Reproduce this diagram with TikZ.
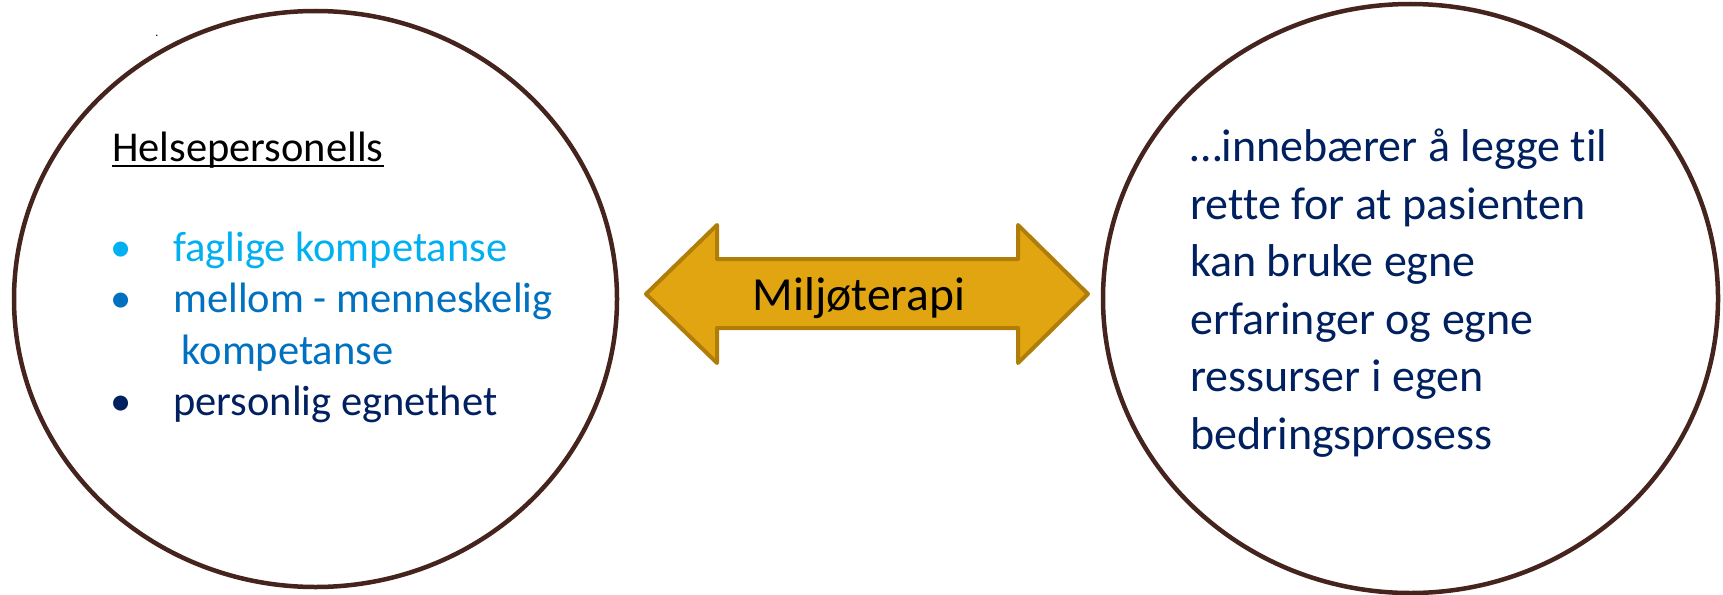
\documentclass[tikz,border=0pt]{standalone}
\usepackage{fontspec}
\setmainfont{Carlito}[Ligatures=NoCommon]
\usetikzlibrary{shapes.geometric}

\definecolor{sirkelbrun}{RGB}{69,36,30}
\definecolor{pilgul}{RGB}{225,165,18}
\definecolor{pilkant}{RGB}{176,125,8}
\definecolor{lysblaa}{RGB}{0,176,240}
\definecolor{mellomblaa}{RGB}{0,112,192}
\definecolor{moerkblaa}{RGB}{0,32,96}

\newcommand{\understrek}[1]{\setbox0\hbox{#1}\rlap{\rule[-5pt]{\wd0}{2pt}}\box0}

\begin{document}
\begin{tikzpicture}[
    x=1pt, y=-1pt,
    % Sirklene
    sirkel/.style={
        draw=sirkelbrun,
        line width=4.5pt,
        ellipse,
        fill=white,
        inner sep=0pt
    },
    % Tekst i venstre sirkel
    punkt/.style={
        anchor=base west,
        inner sep=0pt,
        font=\fontsize{42.5}{52}\selectfont
    },
    % Tekst i hoeyre sirkel
    tekst/.style={
        anchor=base west,
        inner sep=0pt,
        font=\fontsize{46}{57.6}\selectfont,
        text=moerkblaa,
        align=left
    },
    pilform/.style={draw=pilkant, fill=pilgul, line width=4pt, line join=round}
]
\useasboundingbox (0,0) rectangle (1723,594);

% ---- SIRKLER ----
\node[sirkel, minimum width=603pt, minimum height=576pt] (venstre) at (315.5,299) {};
\node[sirkel, minimum width=615pt, minimum height=589pt] (hoeyre) at (1410.5,298.5) {};

% ---- DOBBELTPIL ----
\draw[pilform] (646,294) -- (717,225) -- (717,259) -- (1018,259) -- (1018,225)
    -- (1088,294) -- (1018,363) -- (1018,328) -- (717,328) -- (717,363) -- cycle;
\node[anchor=base, inner sep=0pt, font=\fontsize{47.5}{55}\selectfont] (miljo) at (859,310) {Miljøterapi};

% ---- VENSTRE: HELSEPERSONELLS ----
\node[inner sep=0pt, font=\fontsize{12}{14}\selectfont] (prikk) at (157,36) {.};
\node[punkt] (tittel) at (112,161.5) {\understrek{Helsepersonells}};

\node[punkt, text=lysblaa]    (b1) at (110,261.5) {•};
\node[punkt, text=lysblaa]    (p1) at (173,261.5) {faglige kompetanse};
\node[punkt, text=mellomblaa] (b2) at (110,312) {•};
\node[punkt, text=mellomblaa] (p2) at (173,312) {mellom - menneskelig};
\node[punkt, text=mellomblaa] (p2b) at (181.5,364) {kompetanse};
\node[punkt, text=moerkblaa]  (b3) at (110,415) {•};
\node[punkt, text=moerkblaa]  (p3) at (173,415) {personlig egnethet};

% ---- HOEYRE: BESKRIVELSE ----
\node[tekst] (beskrivelse) at (1190,449.5)
    {…innebærer å legge til\\rette for at pasienten\\kan bruke egne\\erfaringer og egne\\ressurser i egen\\bedringsprosess};

\end{tikzpicture}
\end{document}
